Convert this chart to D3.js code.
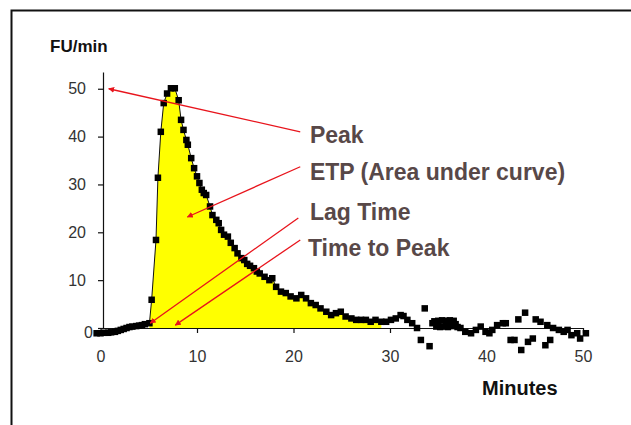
<!DOCTYPE html>
<html>
<head>
<meta charset="utf-8">
<script src="https://cdn.jsdelivr.net/npm/d3@7"></script>
<style>
  body { margin: 0; background: #fff; }
  svg { display: block; font-family: "Liberation Sans", Arial, sans-serif; }
</style>
</head>
<body>
<div id="chart"></div>
<script>
var minutes = [-0.4, 0.0, 0.4, 0.8, 1.1, 1.5, 1.8, 2.1, 2.4, 2.7, 3.0, 3.3, 3.7, 4.0, 4.3, 4.6, 5.07,
  5.3, 5.75, 5.95, 6.25, 6.55, 6.9, 7.3, 7.7, 8.1, 8.35, 8.6, 8.9, 9.05, 9.4, 9.7, 10.0, 10.25, 10.5,
  10.7, 10.95, 11.35, 11.6, 12.0, 12.25, 12.5, 12.8, 13.2, 13.5, 13.9, 14.2, 14.6, 14.9, 15.2, 15.5,
  15.9, 16.2, 16.5, 17.0, 17.5, 17.8, 18.2, 18.7, 19.2, 19.7, 20.3, 20.8, 21.3, 21.8, 22.3, 22.8,
  23.4, 23.9, 24.4, 24.9, 25.4, 26.0, 26.5, 27.0, 27.5, 28.0, 28.5, 29.1, 29.6, 30.1, 30.6, 31.1,
  31.4, 31.8, 32.3, 32.8, 33.2, 33.6, 34.1, 34.4, 34.6, 34.8, 35.0, 35.2, 35.4, 35.6, 35.8, 36.0,
  36.2, 36.4, 36.6, 36.8, 37.0, 37.3, 37.8, 38.4, 38.9, 39.4, 39.9, 40.3, 40.6, 41.1, 41.7, 42.0,
  42.5, 42.9, 43.3, 43.6, 44.0, 44.3, 44.8, 45.1, 45.6, 46.1, 46.3, 46.6, 46.9, 47.5, 48.0, 48.4,
  48.8, 49.4, 49.7, 50.3];
var fuPerMin = [-1.1, -1.1, -1.0, -1.0, -0.9, -0.8, -0.6, -0.4, -0.2, 0, 0.2, 0.3, 0.4, 0.5, 0.6, 0.8, 1.0,
  5.9, 18.4, 31.4, 41, 47, 49, 50.1, 50.1, 47.6, 43.5, 41.4, 39.3, 38.3, 35.5, 33.4, 31.7, 30.3, 28.9,
  28.2, 27.8, 25.4, 23.6, 22.6, 21.9, 20.5, 19.5, 19.1, 17.8, 16.7, 15.6, 14.6, 14.2, 13.4, 13.0,
  12.5, 11.8, 11.4, 10.7, 10.0, 10.4, 8.6, 7.6, 7.3, 6.6, 6.2, 6.9, 6.2, 5.2, 4.8, 4.1,
  3.4, 2.7, 3.1, 3.4, 2.4, 2.0, 1.7, 1.7, 1.7, 1.3, 1.7, 1.3, 1.3, 1.7, 2.0, 2.7,
  2.5, 1.7, 1.0, 0, -2.5, 4.1, -3.8, 1.0, 1.4, 0.3, 1.5, 0.2, 1.6, 0.3, 1.5, 0.2,
  1.6, 0.4, 1.5, 0.8, 0.2, 0, -0.8, -1.1, -0.4, 0.3, -0.8, -1.1, -0.4, 0.6, 1.0, 1.0,
  -2.5, -2.5, 1.8, -4.6, 3.2, -2.9, -2.2, 1.8, 1.3, -3.6, 0.6, -2.5, 0, -0.4, -0.8, -0.4,
  -1.5, -1.1, -2.2, -1.1];

var xTicks = [0, 10, 20, 30, 40, 50];
var yTicks = [0, 10, 20, 30, 40, 50];

// Beschriftungen mit Pfeil: Text-Position und Pfeilziel in Datenkoordinaten
var labelTexts = ["Peak", "ETP (Area under curve)", "Lag Time", "Time to Peak"];
var labelX = [21.7, 21.7, 21.7, 21.5];
var labelY = [38.7, 31.0, 22.6, 15.0];
var arrowFrom = [[20.7, 41.0], [20.7, 33.7], [20.5, 23.0], [20.7, 18.4]];
var arrowTo = [[0.85, 50], [9.0, 23.2], [5.15, 1.0], [7.75, 0.6]];

var lagTime = 5.07, areaEnd = 29.1, lineEnd = 32.8;

var W = 631, H = 425;
var pts = minutes.map((m, i) => ({ t: m, v: fuPerMin[i] }));

var x = d3.scaleLinear().domain([0, 50]).range([100.5, 583]);
var y = d3.scaleLinear().domain([0, 53.5]).range([328, 72]);

var svg = d3.select("#chart").append("svg")
  .attr("width", W).attr("height", H);

// Rahmen (oben und links, Rest abgeschnitten)
svg.append("path")
  .attr("d", `M11.5,${H} V10.5 H${W}`)
  .attr("fill", "none").attr("stroke", "#111").attr("stroke-width", 2);

svg.append("defs").append("marker")
  .attr("id", "arrow")
  .attr("viewBox", "0 0 10 10").attr("refX", 9).attr("refY", 5)
  .attr("markerWidth", 6).attr("markerHeight", 6)
  .attr("markerUnits", "userSpaceOnUse")
  .attr("orient", "auto")
  .append("path").attr("d", "M0,0 L10,5 L0,10 z").attr("fill", "#e8141c");

// Fläche unter der Kurve
var areaPts = pts.filter(d => d.t >= lagTime && d.t <= areaEnd);
svg.append("path")
  .datum(areaPts)
  .attr("d", d3.area().x(d => x(d.t)).y0(y(0)).y1(d => y(d.v)))
  .attr("fill", "#ffff00");

// Achsen
var xAxis = svg.append("g")
  .attr("transform", `translate(0,${y(0)})`)
  .call(d3.axisBottom(x).tickValues(xTicks).tickSize(5).tickPadding(18).tickSizeOuter(0));

var yAxis = svg.append("g")
  .attr("transform", "translate(103,0)")
  .call(d3.axisLeft(y).tickValues(yTicks).tickSize(5).tickPadding(12).tickSizeOuter(0));

[xAxis, yAxis].forEach(a => {
  a.selectAll("path, line").attr("stroke", "#111").attr("stroke-width", 1.2);
  a.selectAll("text").attr("font-size", "16px").attr("fill", "#333")
    .attr("font-family", "'Liberation Sans', Arial, sans-serif");
});
yAxis.selectAll(".tick").filter(d => d === 0).select("text")
  .attr("x", -10).attr("dy", "0.62em");

// Verbindungslinie durch die Messpunkte
svg.append("path")
  .datum(pts.filter(d => d.t <= lineEnd))
  .attr("d", d3.line().x(d => x(d.t)).y(d => y(d.v)))
  .attr("fill", "none").attr("stroke", "#111").attr("stroke-width", 1);

// Messpunkte
var s = 6.5;
svg.append("g").selectAll("rect")
  .data(pts).enter().append("rect")
  .attr("x", d => x(d.t) - s / 2)
  .attr("y", d => y(d.v) - s / 2)
  .attr("width", s).attr("height", s)
  .attr("fill", "#000");

// Pfeile
svg.append("g").selectAll("line")
  .data(labelTexts).enter().append("line")
  .attr("x1", (d, i) => x(arrowFrom[i][0]))
  .attr("y1", (d, i) => y(arrowFrom[i][1]))
  .attr("x2", (d, i) => x(arrowTo[i][0]))
  .attr("y2", (d, i) => y(arrowTo[i][1]))
  .attr("stroke", "#e8141c").attr("stroke-width", 1.3)
  .attr("marker-end", "url(#arrow)");

svg.append("g").selectAll("text")
  .data(labelTexts).enter().append("text")
  .attr("x", (d, i) => x(labelX[i]))
  .attr("y", (d, i) => y(labelY[i]))
  .attr("font-size", "23px").attr("font-weight", "bold")
  .attr("fill", "#584848")
  .text(d => d);

// Achsentitel
svg.append("text")
  .attr("x", 50).attr("y", 52)
  .attr("font-size", "17px").attr("font-weight", "bold").attr("fill", "#111")
  .text("FU/min");

svg.append("text")
  .attr("x", 482).attr("y", 395)
  .attr("font-size", "20px").attr("font-weight", "bold").attr("fill", "#111")
  .text("Minutes");
</script>
</body>
</html>
